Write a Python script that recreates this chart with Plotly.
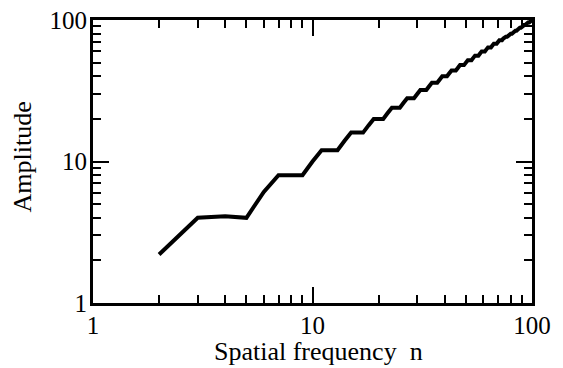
import plotly.graph_objects as go

n_values = list(range(2, 101))
amplitude = [
    2.2, 4, 4.1, 4, 6.1, 8, 8, 8, 10, 12, 12, 12, 14, 16, 16, 16, 18, 20, 20,
    20, 22, 24, 24, 24, 26, 28, 28, 28, 30, 32, 32, 32, 34, 36, 36, 36, 38, 40,
    40, 40, 42, 44, 44, 44, 46, 48, 48, 48, 50, 52, 52, 52, 54, 56, 56, 56, 58,
    60, 60, 60, 62, 64, 64, 64, 66, 68, 68, 68, 70, 72, 72, 72, 74, 76, 76, 76,
    78, 80, 80, 80, 82, 84, 84, 84, 86, 88, 88, 88, 90, 92, 92, 92, 94, 96, 96,
    96, 98, 100, 100,
]
tick_vals = [1, 10, 100]
tick_text = ["1", "10", "100"]
x_title = "Spatial frequency  n"
y_title = "Amplitude"

FONT = "Liberation Serif"

fig = go.Figure()
fig.add_trace(go.Scatter(
    x=n_values, y=amplitude, mode="lines",
    line=dict(color="black", width=4),
    showlegend=False,
))

axis_common = dict(
    type="log", automargin=False, ticklabeloverflow="allow",
    tickvals=tick_vals, ticktext=tick_text,
    ticks="inside", ticklen=16, tickwidth=2, tickcolor="black",
    showline=True, linewidth=3, linecolor="black", mirror="allticks",
    showgrid=False, zeroline=False,
    tickfont=dict(family=FONT, size=25, color="black"),
    minor=dict(ticks="inside", ticklen=8, tickwidth=2, tickcolor="black",
               showgrid=False, dtick="D1"),
)

fig.update_xaxes(range=[0, 2], ticklabelstandoff=-2, **axis_common)
fig.update_yaxes(range=[0, 2], ticklabelstandoff=-2, **axis_common)

fig.add_annotation(text=x_title, xref="paper", yref="paper", x=0.5, y=0,
                   xanchor="center", yanchor="top", yshift=-32, xshift=6,
                   showarrow=False,
                   font=dict(family=FONT, size=26, color="black"))
fig.add_annotation(text=y_title, xref="paper", yref="paper", x=0, y=0.5,
                   xanchor="center", yanchor="middle", xshift=-71, yshift=4,
                   textangle=-90, showarrow=False,
                   font=dict(family=FONT, size=26, color="black"))

# page body adds an 8px offset, so the figure is sized to compensate
fig.update_layout(
    width=555, height=360,
    margin=dict(l=85, r=31, t=12, b=65),
    paper_bgcolor="white", plot_bgcolor="white",
)

fig.write_html("out.html")
